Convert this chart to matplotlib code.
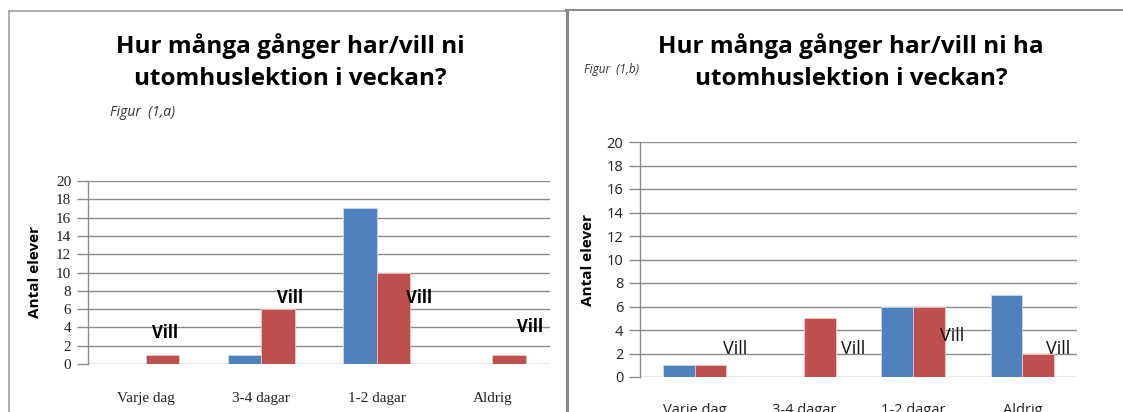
import matplotlib
matplotlib.use("Agg")
import matplotlib.pyplot as plt
from matplotlib.lines import Line2D
import numpy as np

categories = ["Varje dag", "3-4 dagar", "1-2 dagar", "Aldrig"]
har_a = [0, 1, 17, 0]
vill_a = [1, 6, 10, 1]
har_b = [1, 0, 6, 7]
vill_b = [1, 5, 6, 2]
yticks = list(range(0, 21, 2))

title_a = "Hur många gånger har/vill ni\nutomhuslektion i veckan?"
title_b = "Hur många gånger har/vill ni ha\nutomhuslektion i veckan?"
ylabel = "Antal elever"
vill_text = "Vill"

BLUE = "#4F81BD"
RED = "#C0504D"
GRID = "#8C8C8C"

W, H = 1123, 412
fig = plt.figure(figsize=(W / 100, H / 100), dpi=100)

def fx(px):
    return px / W

def fy(py):
    return 1 - py / H

def make_axes(x0, x1, ytop, ybot):
    return fig.add_axes([fx(x0), fy(ybot), fx(x1 - x0), (ybot - ytop) / H])

def style(ax, tickfont, pad_x, size):
    ax.set_xlim(-0.5, 3.5)
    ax.set_ylim(0, 20)
    ax.set_yticks(yticks)
    ax.yaxis.grid(True, color=GRID, linewidth=1.0)
    ax.set_axisbelow(True)
    for s in ["top", "right", "bottom"]:
        ax.spines[s].set_visible(False)
    ax.spines["left"].set_color(GRID)
    ax.spines["left"].set_linewidth(1.0)
    ax.tick_params(axis="y", length=8, color=GRID, width=1.0, pad=4,
                   labelsize=size, labelcolor="#222222")
    ax.tick_params(axis="x", length=0, pad=pad_x, labelsize=size,
                   labelcolor="#222222")
    ax.set_xticks(np.arange(len(categories)))
    ax.set_xticklabels(categories, family=tickfont)
    for lab in ax.get_yticklabels():
        lab.set_family(tickfont)

bw = 0.29
x = np.arange(len(categories))

# ---- Left chart ----
axa = make_axes(88, 550, 181, 364)
axa.bar(x - bw / 2, har_a, bw, color=BLUE, edgecolor="#C6D9F1", linewidth=0.6, zorder=3)
axa.bar(x + bw / 2, vill_a, bw, color=RED, edgecolor="#F2C4C3", linewidth=0.6, zorder=3)
style(axa, "Liberation Serif", 20, 11)
axa.set_ylabel(ylabel, fontsize=11, fontweight="bold", family="Open Sans", labelpad=10)
vill_pos_a = [(0.17, 3.4), (1.25, 7.2), (2.37, 7.2), (3.33, 4.0)]
for (vx, vy) in vill_pos_a:
    axa.text(vx, vy, vill_text, ha="center", va="center", fontsize=12,
             fontweight="bold", family="Open Sans", zorder=4)

# ---- Right chart ----
axb = make_axes(640, 1077, 142, 377)
axb.bar(x - bw / 2, har_b, bw, color=BLUE, edgecolor="#C6D9F1", linewidth=0.6, zorder=3)
axb.bar(x + bw / 2, vill_b, bw, color=RED, edgecolor="#F2C4C3", linewidth=0.6, zorder=3)
style(axb, "Open Sans", 19, 10.5)
axb.set_ylabel(ylabel, fontsize=11, fontweight="bold", family="Open Sans", labelpad=8)
vill_pos_b = [(0.37, 2.4), (1.45, 2.4), (2.36, 3.5), (3.33, 2.4)]
for (vx, vy) in vill_pos_b:
    axb.text(vx, vy, vill_text, ha="center", va="center", fontsize=13,
             family="Open Sans", color="#111111", zorder=4)

# ---- Titles and captions ----
fig.text(fx(290), fy(62), title_a, ha="center", va="center", fontsize=17.5,
         fontweight="bold", family="Open Sans", linespacing=1.45)
fig.text(fx(851), fy(62), title_b, ha="center", va="center", fontsize=17.5,
         fontweight="bold", family="Open Sans", linespacing=1.45)
fig.text(fx(110), fy(113), "Figur  (1,a)", ha="left", va="center", fontsize=10,
         style="italic", family="Open Sans", color="#333333")
fig.text(fx(584), fy(70), "Figur  (1,b)", ha="left", va="center", fontsize=8.5,
         style="italic", family="Open Sans", color="#333333")

# ---- Page borders ----
fig.add_artist(Line2D([fx(9), fx(9)], [fy(11), 0], color="#A0A0A0", linewidth=1.2))
fig.add_artist(Line2D([fx(9), fx(566)], [fy(11), fy(11)], color="#A0A0A0", linewidth=1.2))
fig.add_artist(Line2D([fx(566), fx(1123)], [fy(9.5), fy(9.5)], color="#888888", linewidth=1.4))
fig.add_artist(Line2D([fx(567), fx(567)], [fy(9.5), 0], color="#888888", linewidth=2.2))

fig.savefig("out.png", dpi=100)
